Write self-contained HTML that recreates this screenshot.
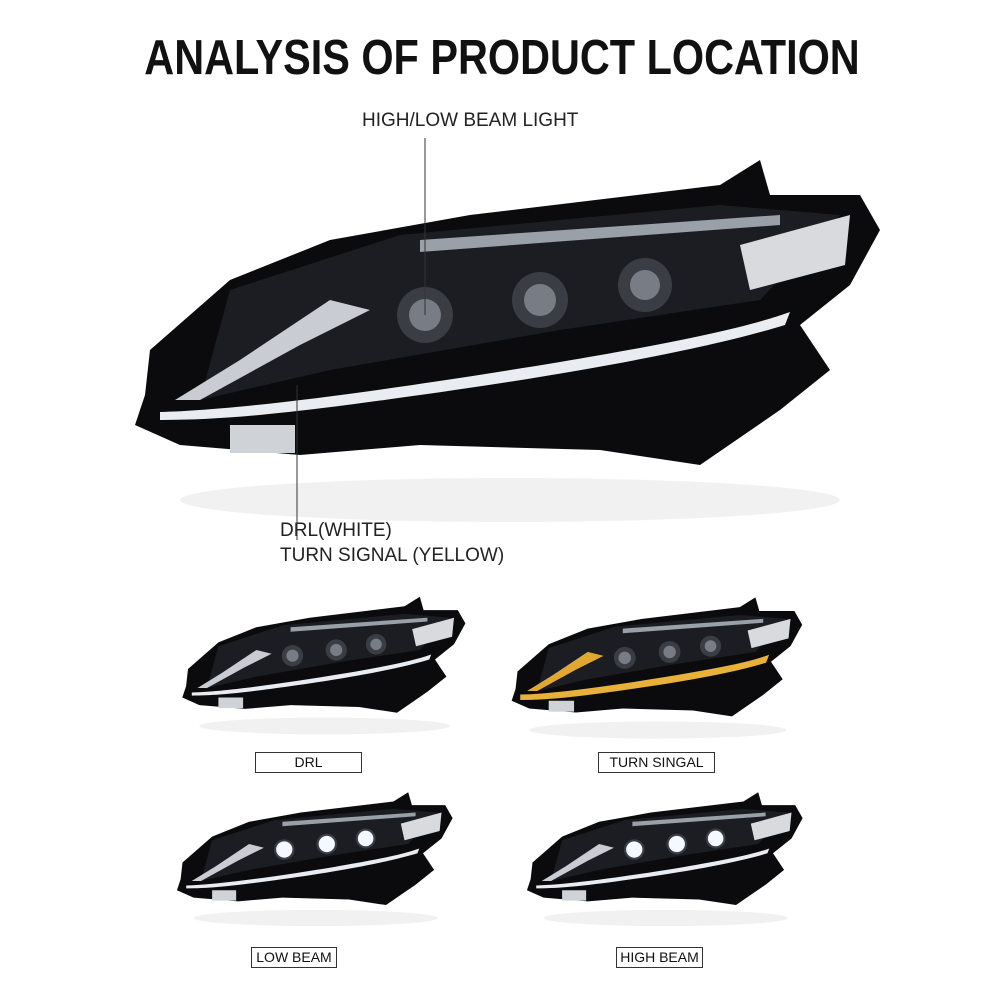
<!DOCTYPE html>
<html><head><meta charset="utf-8"><style>
body{margin:0;background:#fff;}
.w{position:relative;width:1000px;height:1000px;overflow:hidden;font-family:"Liberation Sans",sans-serif;}
.t{position:absolute;left:0;width:1000px;top:30px;text-align:center;font-size:49px;font-weight:bold;color:#111;transform:scaleX(0.845);transform-origin:513px 0;}
.l{position:absolute;font-size:19px;color:#222;}
.b{position:absolute;border:1px solid #333;font-size:14px;color:#111;text-align:center;line-height:19px;height:19px;}
</style></head><body><div class="w">
<div class="t">ANALYSIS OF PRODUCT LOCATION</div>
<div class="l" style="left:362px;top:110px">HIGH/LOW BEAM LIGHT</div>
<div class="l" style="left:280px;top:520px">DRL(WHITE)</div>
<div class="l" style="left:280px;top:545px">TURN SIGNAL (YELLOW)</div>
<svg width="1000" height="1000" style="position:absolute;left:0;top:0">
<defs>
<g id="hl">
<ellipse cx="510" cy="500" rx="330" ry="22" fill="#e8e8e8" opacity="0.6"/>
<path d="M150,350 L230,280 L330,240 L470,215 L720,185 L760,160 L770,195 L860,195 L880,230 L850,285 L800,325 L830,370 L780,410 L700,465 L600,450 L420,445 L300,455 L180,445 L135,425 L145,395 Z" fill="#0b0b0d"/>
<path d="M230,290 L400,235 L720,205 L840,215 L760,300 L560,330 L330,370 L200,400 Z" fill="#1c1d22"/>
<path d="M740,245 L850,215 L845,265 L750,290 Z" fill="#d8dade"/>
<path d="M160,412 C250,410 420,385 560,362 C660,345 740,330 790,312 L785,325 C720,345 600,370 420,395 C300,412 230,420 160,420 Z" fill="#e9ecf0"/>
<path d="M330,300 L240,360 L175,400 L200,400 L300,345 L370,310 Z" fill="#c9cdd3"/>
<path d="M420,240 L780,215 L780,225 L420,252 Z" fill="#9aa0a8"/>
<circle cx="425" cy="315" r="28" fill="#3a3d44"/><circle cx="425" cy="315" r="16" fill="#777c85"/>
<circle cx="540" cy="300" r="28" fill="#3a3d44"/><circle cx="540" cy="300" r="16" fill="#777c85"/>
<circle cx="645" cy="285" r="27" fill="#3a3d44"/><circle cx="645" cy="285" r="15" fill="#777c85"/>
<rect x="230" y="425" width="65" height="28" fill="#cfd2d6"/>
</g>
<g id="hlb">
<use href="#hl"/>
<circle cx="425" cy="315" r="22" fill="#f4f8ff"/><circle cx="540" cy="300" r="22" fill="#f4f8ff"/><circle cx="645" cy="285" r="21" fill="#f4f8ff"/>
</g>
</defs>
<use href="#hl"/>
<line x1="425" y1="138" x2="425" y2="315" stroke="#333" stroke-width="1"/>
<line x1="297" y1="385" x2="297" y2="540" stroke="#333" stroke-width="1"/>
<g transform="translate(131,536) scale(0.38)"><use href="#hl"/></g>
<g transform="translate(459,535) scale(0.39)"><use href="#hl"/>
<path d="M160,412 C250,410 420,385 560,362 C660,345 740,330 790,312 L785,325 C720,345 600,370 420,395 C300,412 230,420 160,420 Z" fill="#e8b23a" stroke="#e8b23a" stroke-width="6"/>
<path d="M330,300 L240,360 L175,400 L200,400 L300,345 L370,310 Z" fill="#e0a830"/></g>
<g transform="translate(127,733) scale(0.37)"><use href="#hlb"/></g>
<g transform="translate(477,733) scale(0.37)"><use href="#hlb"/></g>
</svg>
<div class="b" style="left:255px;top:752px;width:105px">DRL</div>
<div class="b" style="left:598px;top:752px;width:115px">TURN SINGAL</div>
<div class="b" style="left:251px;top:947px;width:84px">LOW BEAM</div>
<div class="b" style="left:616px;top:947px;width:85px">HIGH BEAM</div>
</div></body></html>
